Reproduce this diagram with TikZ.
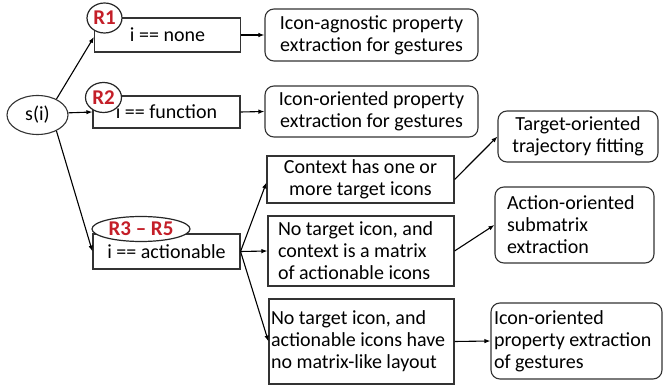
\documentclass[tikz,border=0pt]{standalone}
\usepackage{fontspec}
\setmainfont{Carlito}
\usetikzlibrary{arrows.meta,shapes.geometric}
\definecolor{rred}{RGB}{196,30,40}
\begin{document}
\begin{tikzpicture}[x=1pt,y=-1pt,
  every node/.style={font=\fontsize{20}{22}\selectfont},
  box/.style={draw=black!80, line width=1.1pt, fill=white, inner sep=0pt},
  rbox/.style={box, rounded corners=9pt},
  lbox/.style={align=flush left, inner xsep=0pt},
  arr/.style={-{Latex[length=6pt,width=4.5pt]}, line width=1.1pt},
  tag/.style={ellipse, draw=black!85, line width=1.2pt, fill=white, inner sep=0pt,
    font=\fontsize{21}{21}\selectfont\bfseries, text=rred}]
\useasboundingbox (0,0) rectangle (664,387);

% root
\node[ellipse, draw=black!80, line width=1.1pt, minimum width=61pt, minimum height=39pt, inner sep=0pt] (s) at (37.5,115) {s(i)};

% condition boxes
\node[box, minimum width=146pt, minimum height=34pt] (none) at (167.5,35) {i == none};
\node[tag, minimum width=35pt, minimum height=30pt] (r1) at (104.5,18) {R1};

\node[box, minimum width=147pt, minimum height=32pt] (fun) at (166.5,112) {i == function};
\node[tag, minimum width=36pt, minimum height=30pt] (r2) at (103.5,97.5) {R2};

\node[box, minimum width=147pt, minimum height=35pt] (act) at (166.5,251.5) {i == actionable};
\node[tag, minimum width=98pt, minimum height=25pt] (r3) at (141,229) {R3 -- R5};

% result boxes
\node[rbox, minimum width=213pt, minimum height=52pt, align=center] (ag) at (371.5,35) {Icon-agnostic property\\extraction for gestures};
\node[rbox, minimum width=213pt, minimum height=51pt, align=center] (or) at (371.5,111.5) {Icon-oriented property\\extraction for gestures};

% sub-condition boxes
\node[box, minimum width=187pt, minimum height=47pt, align=center] (ctx) at (360.5,179.5) {Context has one or\\more target icons};
\node[box, lbox, minimum width=186pt, minimum height=70pt, text width=166pt] (mat) at (361,251)
  {\mbox{No target icon, and}\\\mbox{context is a matrix}\\\mbox{of actionable icons}};
\node[box, lbox, minimum width=185pt, minimum height=85pt, text width=181pt] (nom) at (361.5,341.5)
  {\mbox{No target icon, and}\\\mbox{actionable icons have}\\\mbox{no matrix-like layout}};

% final boxes
\node[rbox, minimum width=160pt, minimum height=51pt, align=center] (tg) at (578,136.5) {Target-oriented\\trajectory fitting};
\node[rbox, lbox, minimum width=159pt, minimum height=76pt, text width=135pt] (sub) at (574.5,225)
  {\mbox{Action-oriented}\\\mbox{submatrix}\\\mbox{extraction}};
\node[rbox, lbox, minimum width=171pt, minimum height=76pt, text width=165pt] (io) at (576.5,341)
  {\mbox{Icon-oriented}\\\mbox{property extraction}\\\mbox{of gestures}};

% connectors
\draw[arr] (s.40) -- ([yshift=-2pt]none.west);
\draw[arr] (s.4) -- (fun.west);
\draw[arr] (s.-40) -- (act.west);
\draw[arr] (none.east) -- (ag.west);
\draw[arr] (fun.east) -- (or.west);
\draw[arr] (act.east) -- ([yshift=-3pt]ctx.west);
\draw[arr] (act.east) -- (mat.west);
\draw[arr] (act.east) -- (nom.west);
\draw[arr] (ctx.east) -- (tg.west);
\draw[arr] (mat.east) -- (sub.west);
\draw[arr] (nom.east) -- (io.west);
\end{tikzpicture}
\end{document}
